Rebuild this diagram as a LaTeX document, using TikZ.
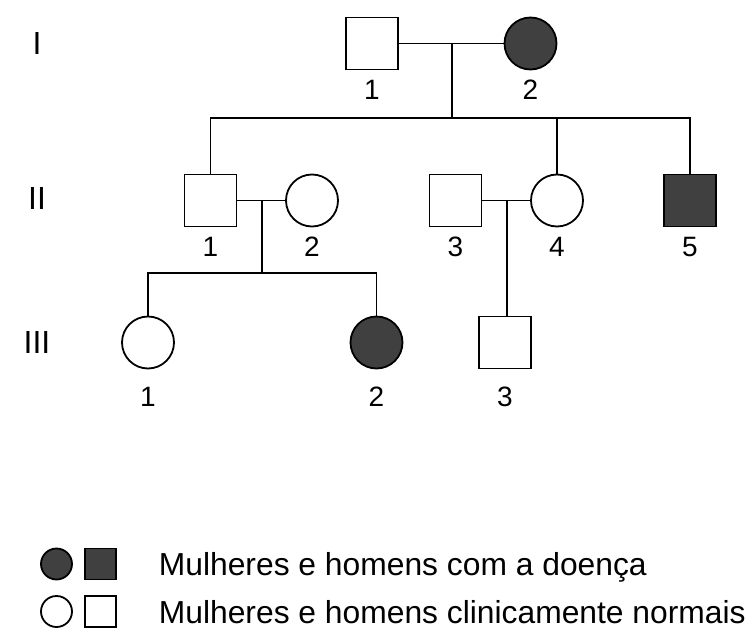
\documentclass[tikz,border=0pt]{standalone}
\usepackage{fontspec}
\setmainfont{Liberation Sans}
\begin{document}
\begin{tikzpicture}[x=1pt,y=-1pt,
  line width=1.8pt,
  male/.style={draw,rectangle,minimum size=52pt,inner sep=0pt,fill=white},
  female/.style={draw,circle,minimum size=52pt,inner sep=0pt,fill=white},
  affected/.style={fill=affgray},
  idlabel/.style={inner sep=0pt,font=\fontsize{28}{28}\selectfont},
  genlabel/.style={inner sep=0pt,font=\fontsize{32}{32}\selectfont},
  legtext/.style={inner sep=0pt,anchor=base west,font=\fontsize{31.8}{32}\selectfont},
  link/.style={draw,line width=1.8pt}]
\definecolor{affgray}{HTML}{404040}
\useasboundingbox (0,0) rectangle (753,632);

% generation labels
\node[genlabel] (gI) at (37,43.5) {I};
\node[genlabel] (gII) at (37,198) {II};
\node[genlabel] (gIII) at (37,342) {III};

% generation I
\node[male] (I1) at (372,43.5) {};
\node[female,affected] (I2) at (530.5,43.5) {};
\node[idlabel] (lI1) at (372,90) {1};
\node[idlabel] (lI2) at (530.5,90) {2};

% generation II
\node[male] (II1) at (210.5,200.5) {};
\node[female] (II2) at (312,200.5) {};
\node[male] (II3) at (455.5,200.5) {};
\node[female] (II4) at (557,200.5) {};
\node[male,affected] (II5) at (690,200.5) {};
\node[idlabel] (lII1) at (210.5,247) {1};
\node[idlabel] (lII2) at (312,247) {2};
\node[idlabel] (lII3) at (455.5,247) {3};
\node[idlabel] (lII4) at (557,247) {4};
\node[idlabel] (lII5) at (690,247) {5};

% generation III
\node[female] (III1) at (148,342.5) {};
\node[female,affected] (III2) at (376.5,342.5) {};
\node[male] (III3) at (505,342.5) {};
\node[idlabel] (lIII1) at (148,397) {1};
\node[idlabel] (lIII2) at (376.5,397) {2};
\node[idlabel] (lIII3) at (505,397) {3};

% junction points of the tree
\coordinate (m1) at (452,43.5);
\coordinate (s1) at (452,118);
\coordinate (m2) at (262,200.5);
\coordinate (s2) at (262,273);
\coordinate (m3) at (507,200.5);

% matings and descent lines
\draw[link] (I1) -- (I2);
\draw[link] (m1) -- (s1);
\draw[link] (II1.north) |- (s1) -| (II5.north);
\draw[link] (s1) -| (II4.north);

\draw[link] (II1) -- (II2);
\draw[link] (m2) -- (s2);
\draw[link] (III1.north) |- (s2) -| (III2.north);

\draw[link] (II3) -- (II4);
\draw[link] (m3) -- (m3 |- III3.north);

% legend
\node[draw,circle,minimum size=31pt,inner sep=0pt,fill=affgray] (kf1) at (56.5,564) {};
\node[draw,rectangle,minimum size=31pt,inner sep=0pt,fill=affgray] (km1) at (100.5,564) {};
\node[draw,circle,minimum size=31pt,inner sep=0pt,fill=white] (kf2) at (56.5,611.5) {};
\node[draw,rectangle,minimum size=31pt,inner sep=0pt,fill=white] (km2) at (100.5,611.5) {};
\node[legtext] (t1) at (158,575) {Mulheres e homens com a doença};
\node[legtext] (t2) at (158,623) {Mulheres e homens clinicamente normais};
\end{tikzpicture}
\end{document}
